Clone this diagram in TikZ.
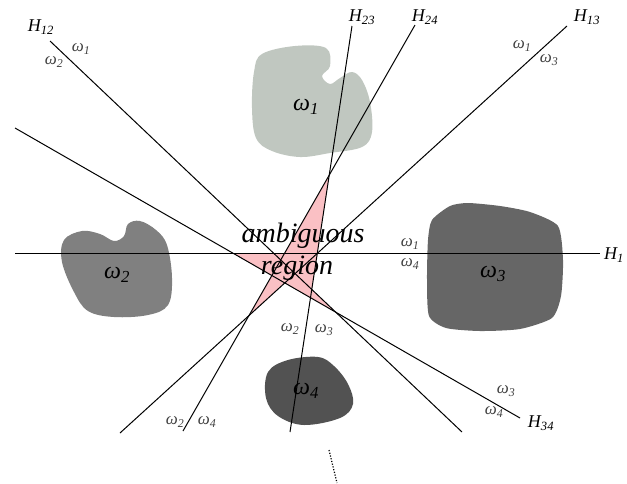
\documentclass[tikz,border=0pt]{standalone}
\usepackage{fontspec}
\setmainfont{Liberation Serif}
\usepackage{xcolor}
\usepackage{tikz}

\definecolor{classA}{RGB}{192,199,192}
\definecolor{classB}{RGB}{128,128,128}
\definecolor{classC}{RGB}{102,102,102}
\definecolor{classD}{RGB}{82,82,82}
\definecolor{ambig}{RGB}{250,192,196}

\tikzset{
  hplane/.style={line width=1pt},
  hlabel/.style={inner sep=1pt,font=\fontsize{18}{18}\selectfont\itshape},
  side/.style={inner sep=1pt,text=black!75,font=\fontsize{17}{17}\selectfont\itshape},
  cls/.style={inner sep=1pt,font=\fontsize{24}{24}\selectfont\itshape}
}

\begin{document}
\begin{tikzpicture}[x=1pt,y=-1pt]
  \useasboundingbox (0,0) rectangle (627,483);

  % end points of the separating lines
  \coordinate (h12a) at (50,41);   \coordinate (h12b) at (462,432);
  \coordinate (h34a) at (15,128);  \coordinate (h34b) at (520,418);
  \coordinate (h1a)  at (15,253);  \coordinate (h1b)  at (600,253);
  \coordinate (h23a) at (352,26);  \coordinate (h23b) at (290,432);
  \coordinate (h24a) at (415,25);  \coordinate (h24b) at (183,431);
  \coordinate (h13a) at (567,26);  \coordinate (h13b) at (120,433);

  % class regions
  \fill[classA] plot[smooth cycle,tension=0.6] coordinates {(262,54) (295,46) (326,48) (330,66)
    (322,76) (330,84) (340,78) (352,72) (362,80) (370,102) (372,132) (362,147) (330,153)
    (300,157) (272,151) (256,138) (252,108) (254,72)};
  \fill[classB] plot[smooth cycle,tension=0.6] coordinates {(64,240) (82,231) (100,234) (114,241)
    (124,236) (128,224) (140,221) (156,230) (167,245) (172,278) (168,305) (148,315) (114,317)
    (88,311) (74,292) (62,262)};
  \fill[classC] plot[smooth cycle,tension=0.4] coordinates {(432,220) (450,206) (468,203) (500,206)
    (530,212) (558,226) (563,260) (561,296) (552,318) (520,329) (480,331) (446,328) (429,316)
    (427,280) (428,240)};
  \fill[classD] plot[smooth cycle,tension=0.6] coordinates {(268,372) (288,360) (318,357) (334,366)
    (348,384) (353,404) (340,418) (304,425) (278,416) (266,398)};

  % ambiguous region
  \fill[ambig] (intersection of h23a--h23b and h24a--h24b)
    -- (intersection of h23a--h23b and h1a--h1b)
    -- (intersection of h23a--h23b and h12a--h12b)
    -- (intersection of h12a--h12b and h34a--h34b)
    -- (intersection of h34a--h34b and h13a--h13b)
    -- (intersection of h13a--h13b and h24a--h24b)
    -- (intersection of h24a--h24b and h34a--h34b)
    -- (intersection of h34a--h34b and h1a--h1b)
    -- (intersection of h24a--h24b and h1a--h1b) -- cycle;

  % separating lines
  \draw[hplane] (h12a) -- (h12b);
  \draw[hplane] (h34a) -- (h34b);
  \draw[hplane] (h1a) -- (h1b);
  \draw[hplane] (h23a) -- (h23b);
  \draw[hplane] (h24a) -- (h24b);
  \draw[hplane] (h13a) -- (h13b);
  \draw[line width=1.2pt,dash pattern=on 1.2pt off 1.6pt] (329,450) -- (337,483);

  % line names
  \node[hlabel] (n12) at (41,27) {H\textsubscript{12}};
  \node[hlabel] (n23) at (362,17) {H\textsubscript{23}};
  \node[hlabel] (n24) at (425,17) {H\textsubscript{24}};
  \node[hlabel] (n13) at (587,17) {H\textsubscript{13}};
  \node[hlabel,anchor=west] (n1) at (603,255) {H\textsubscript{1}};
  \node[hlabel] (n34) at (541,423) {H\textsubscript{34}};

  % sides of the lines
  \node[side] (s12a) at (81,49) {ω\textsubscript{1}};
  \node[side] (s12b) at (54,62) {ω\textsubscript{2}};
  \node[side] (s13a) at (522,46) {ω\textsubscript{1}};
  \node[side] (s13b) at (549,60) {ω\textsubscript{3}};
  \node[side] (s1a) at (410,244) {ω\textsubscript{1}};
  \node[side] (s1b) at (410,264) {ω\textsubscript{4}};
  \node[side] (s23a) at (290,329) {ω\textsubscript{2}};
  \node[side] (s23b) at (324,330) {ω\textsubscript{3}};
  \node[side] (s24a) at (175,422) {ω\textsubscript{2}};
  \node[side] (s24b) at (207,422) {ω\textsubscript{4}};
  \node[side] (s34a) at (506,391) {ω\textsubscript{3}};
  \node[side] (s34b) at (494,412) {ω\textsubscript{4}};

  % class names
  \node[cls] (c1) at (306,107) {ω\textsubscript{1}};
  \node[cls] (c2) at (117,275) {ω\textsubscript{2}};
  \node[cls] (c3) at (493,274) {ω\textsubscript{3}};
  \node[cls] (c4) at (306,391) {ω\textsubscript{4}};

  \node[font=\fontsize{28}{28}\selectfont\itshape,inner sep=0pt] (amb) at (303,236) {ambiguous};
  \node[font=\fontsize{28}{28}\selectfont\itshape,inner sep=0pt] (reg) at (297,268) {region};
\end{tikzpicture}
\end{document}
